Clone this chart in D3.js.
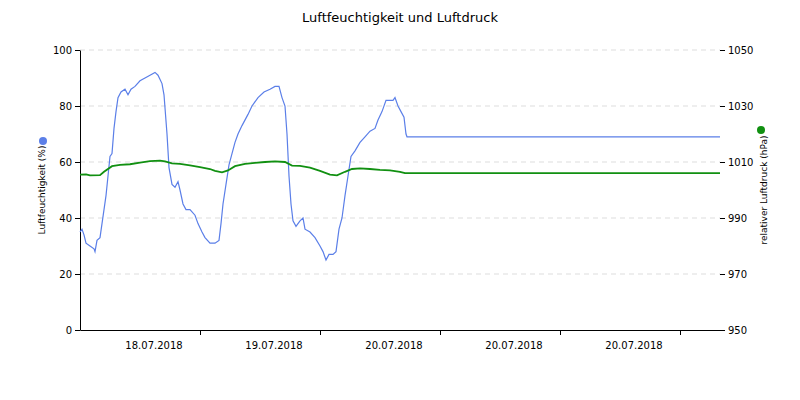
<!DOCTYPE html><html><head><meta charset="utf-8"><script src="https://cdn.jsdelivr.net/npm/d3@7"></script>
<style>body{margin:0;background:#fff}text{font-family:"DejaVu Sans",sans-serif}</style></head><body><svg id="c" width="800" height="400"></svg>
<script>
// time in hours since start of chart
const humT=[0,0.4,0.8,1.2,2,2.8,3,3.4,4,4.4,4.8,5.2,5.6,6,6.4,6.8,7.2,7.6,8.2,9,9.6,10.2,11,12,13,14,15,15.6,16.4,16.8,17.4,17.8,18.4,19,19.6,20,20.6,21.2,22,23,23.6,24.4,25,26,27,27.8,28.2,28.6,29.2,29.8,30.4,31,31.6,32.4,33.6,34.4,35.6,36.8,38,39,39.8,40.4,41,41.4,41.8,42.2,42.6,43.2,44,44.6,45,46,47,48,48.6,49.2,49.8,50.6,51.2,51.8,52.4,53,53.6,54.2,55,56,57,58,59,59.6,60.4,61.2,62,62.6,63,63.6,64.2,64.8,65.2,65.4,128];
const humV=[35,36,34,31,30,29,28,32,33,38,43,48,55,62,63,72,78,83,85,86,84,86,87,89,90,91,92,91,88,84,70,58,52,51,53,50,45,43,43,41,38,35,33,31,31,32,38,45,52,59,63,67,70,73,77,80,83,85,86,87,87,83,80,70,55,45,39,37,39,40,36,35,33,30,28,25,27,27,28,36,40,48,55,62,64,67,69,71,72,75,78,82,82,82,83,80,78,76,70,69,69];
const prT=[0,1.2,2,4,4.8,6.4,8,10,12,14,16,17,18.4,20,22,24,26,27,28.4,29.6,31,33,35,37,39,41,42.4,44,46,48,50,51.4,53,54.4,56,58,60,62,64,65,128];
const prV=[1005.5,1005.6,1005.2,1005.3,1006.5,1008.5,1009,1009.2,1009.8,1010.3,1010.5,1010.2,1009.5,1009.3,1008.8,1008.2,1007.5,1006.8,1006.3,1007,1008.5,1009.3,1009.7,1010,1010.2,1010,1008.7,1008.6,1008,1006.8,1005.5,1005.2,1006.5,1007.5,1007.7,1007.5,1007.2,1007,1006.5,1006,1006];
const xTicks=[24,48,72,96,120];
const xLabels=["18.07.2018","19.07.2018","20.07.2018","20.07.2018","20.07.2018"];
const yLeftTicks=[0,20,40,60,80,100];
const yRightTicks=[950,970,990,1010,1030,1050];

const svg=d3.select("#c");
const L=80,R=720,T=50,B=330;
const x=d3.scaleLinear().domain([0,128]).range([L,R]);
const yl=d3.scaleLinear().domain([0,100]).range([B,T]);
const yr=d3.scaleLinear().domain([950,1050]).range([B,T]);
svg.append("text").attr("x",400).attr("y",22).attr("text-anchor","middle").attr("font-size",13).text("Luftfeuchtigkeit und Luftdruck");
svg.append("g").selectAll("line").data(yLeftTicks.slice(1)).join("line").attr("x1",L).attr("x2",R)
 .attr("y1",d=>yl(d)).attr("y2",d=>yl(d)).attr("stroke","#ddd").attr("stroke-dasharray","5,4");
const ga=svg.append("g").attr("transform",`translate(${L},0)`).call(d3.axisLeft(yl).tickValues(yLeftTicks).tickSize(5).tickSizeOuter(0).tickFormat(d3.format("d")));
const gr=svg.append("g").attr("transform",`translate(${R},0)`).call(d3.axisRight(yr).tickValues(yRightTicks).tickSize(5).tickSizeOuter(0).tickFormat(d3.format("d")));
gr.select(".domain").remove();
const gx=svg.append("g").attr("transform",`translate(0,${B})`).call(d3.axisBottom(x).tickValues(xTicks).tickSize(5).tickSizeOuter(0).tickFormat(()=>""));
gx.selectAll("text").remove();
svg.append("g").selectAll("text").data(xTicks).join("text").attr("x",d=>x(d)-46).attr("y",B+19).attr("text-anchor","middle")
 .attr("font-size",10).text((d,i)=>xLabels[i]);
[ga,gr].forEach(g=>g.selectAll("text").attr("font-size",10).attr("font-family","DejaVu Sans").attr("fill","#000"));
svg.selectAll(".domain,.tick line").attr("stroke","#000");
const line=(ys)=>d3.line().x(d=>x(d[0])).y(d=>ys(d[1]));
svg.append("path").datum(humT.map((t,i)=>[t,humV[i]])).attr("d",line(yl)).attr("fill","none").attr("stroke","#5b7fe8").attr("stroke-width",1.2);
svg.append("path").datum(prT.map((t,i)=>[t,prV[i]])).attr("d",line(yr)).attr("fill","none").attr("stroke","#119011").attr("stroke-width",1.8);
svg.append("text").attr("transform","translate(45,190) rotate(-90)").attr("text-anchor","middle").attr("font-size",9).text("Luftfeuchtigkeit (%)");
svg.append("circle").attr("cx",43).attr("cy",141).attr("r",4).attr("fill","#5b7fe8");
svg.append("text").attr("transform","translate(767,190) rotate(-90)").attr("text-anchor","middle").attr("font-size",9).text("relativer Luftdruck (hPa)");
svg.append("circle").attr("cx",761).attr("cy",130).attr("r",4).attr("fill","#119011");
</script></body></html>
